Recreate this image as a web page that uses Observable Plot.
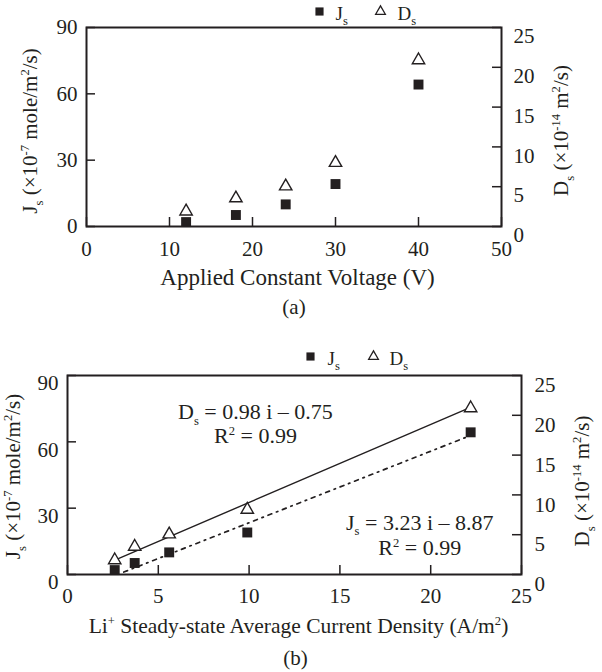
<!DOCTYPE html>
<html><head><meta charset="utf-8">
<script src="https://cdn.jsdelivr.net/npm/d3@7"></script>
<script src="https://cdn.jsdelivr.net/npm/@observablehq/plot@0.6"></script>
<style>
body{margin:0;background:#fff;}
#chart{width:602px;}
#chart svg{display:block;}
</style></head><body><div id="chart"></div>
<script>
// ---- Data ----
// Panel (a): applied constant voltage (V)
const voltage = [12, 18, 24, 30, 40];
const jsA = [2.0, 5.2, 10.0, 19.2, 64.2];      // Js (x10^-7 mole/m2/s)
const dsA = [1.9, 3.55, 5.05, 8.0, 20.9];      // Ds (x10^-14 m2/s)
// Panel (b): Li+ steady-state average current density (A/m2)
const current = [2.6, 3.7, 5.6, 9.9, 22.2];
const jsB = [2.0, 5.2, 10.0, 19.0, 64.3];
const dsB = [1.8, 3.5, 5.05, 8.15, 20.9];
// Fitted lines (end points)
const dsFitI = [2.8, 22.0];
const dsFitD = [2.0, 20.8];
const jsFitI = [3.1, 21.9];
const jsFitJ = [1.1, 61.9];
// Equation annotations (b)
const eqText = ["D_{s} = 0.98 i – 0.75", "R^{2} = 0.99", "J_{s} = 3.23 i – 8.87", "R^{2} = 0.99"];
const eqI = [10.35, 10.35, 19.4, 19.4];
const eqJ = [73.3, 62.8, 23.5, 12.1];
// Ticks
const jTicks = [0, 30, 60, 90];
const dTicks = [0, 5, 10, 15, 20, 25];
const voltTicks = [0, 10, 20, 30, 40, 50];
const curTicks = [0, 5, 10, 15, 20, 25];
const J_MAX = 90, D_MAX = 25;
const K = J_MAX / D_MAX;

const ink = "#231f20";
const W = 602;

function panel(o) {
  const pw = W - o.ml - o.mr, ph = o.height - o.mt - o.mb;
  const marks = [
    Plot.tickX(o.xTicks, {x: d => d, insetTop: ph - 9, stroke: ink, strokeWidth: 1.5}),
    Plot.tickY(jTicks, {y: d => d, insetRight: pw - 9, stroke: ink, strokeWidth: 1.5}),
    Plot.tickY(dTicks, {y: d => d * K, insetLeft: pw - 9, stroke: ink, strokeWidth: 1.5}),
    Plot.axisX(o.xTicks, {anchor: "bottom", tickSize: 0, tickPadding: o.xPad, label: null}),
    Plot.axisY(jTicks, {anchor: "left", tickSize: 0, tickPadding: 9, dy: o.lDy, label: null}),
    Plot.axisY(dTicks.map(d => d * K), {anchor: "right", tickSize: 0, tickPadding: o.rPad, dy: o.rDy,
      tickFormat: d => String(Math.round(d / K)), label: null}),
    ...(o.extra || []),
    Plot.dot(o.xs, {x: o.xs, y: o.ds.map(d => d * K), symbol: "triangle", r: 4.6, fill: "white", stroke: ink, strokeWidth: 1.4}),
    Plot.dot(o.xs, {x: o.xs, y: o.js, symbol: "square", r: 5.6, fill: ink}),
    Plot.frame({stroke: ink, strokeWidth: 2}),
    // legend
    Plot.dot([0], {frameAnchor: "top-left", dx: o.leg[0], dy: o.leg[1], symbol: "square", r: 4.6, fill: ink}),
    Plot.text(["J_{s}"], {frameAnchor: "top-left", dx: o.leg[2], dy: o.leg[3], textAnchor: "start", lineAnchor: "middle", fontSize: 19, fill: ink}),
    Plot.dot([0], {frameAnchor: "top-left", dx: o.leg[4], dy: o.leg[5], symbol: "triangle", r: 3.6, fill: "white", stroke: ink, strokeWidth: 1.3}),
    Plot.text(["D_{s}"], {frameAnchor: "top-left", dx: o.leg[6], dy: o.leg[7], textAnchor: "start", lineAnchor: "middle", fontSize: 19, fill: ink}),
    // titles
    Plot.text([o.xTitle], {frameAnchor: "bottom", dx: o.xt[0], dy: o.xt[1], textAnchor: "middle", lineAnchor: "middle", fontSize: o.xtSize, fill: ink}),
    Plot.text(["J_{s} (×10^{-7} mole/m^{2}/s)"], {frameAnchor: "left", rotate: -90, dx: o.lt[0], dy: o.lt[1], textAnchor: "middle", lineAnchor: "middle", fill: ink}),
    Plot.text(["D_{s} (×10^{-14} m^{2}/s)"], {frameAnchor: "right", rotate: -90, dx: o.rt[0], dy: o.rt[1], textAnchor: "middle", lineAnchor: "middle", fill: ink}),
    Plot.text([o.caption], {frameAnchor: "bottom", dx: o.cap[0], dy: o.cap[1], textAnchor: "middle", lineAnchor: "middle", fill: ink})
  ];
  const svg = Plot.plot({
    width: W, height: o.height,
    marginLeft: o.ml, marginRight: o.mr, marginTop: o.mt, marginBottom: o.mb,
    x: {domain: o.xDomain},
    y: {domain: [0, J_MAX]},
    style: {fontFamily: "'Liberation Serif', 'Times New Roman', serif", fontSize: "21px", color: ink, background: "white", overflow: "visible"},
    marks
  });
  richText(svg);
  return svg;
}

function richText(svg) {
  const ns = "http://www.w3.org/2000/svg";
  svg.querySelectorAll("text").forEach(el => {
    const s = el.textContent;
    if (!/[_^]\{/.test(s)) return;
    const base = parseFloat(el.getAttribute("font-size")) || 21;
    const parts = [];
    const re = /([_^])\{([^}]*)\}/g;
    let last = 0, m;
    while ((m = re.exec(s))) {
      if (m.index > last) parts.push({t: s.slice(last, m.index), k: 0});
      parts.push({t: m[2], k: m[1] === "_" ? 1 : -1});
      last = re.lastIndex;
    }
    if (last < s.length) parts.push({t: s.slice(last), k: 0});
    el.textContent = "";
    let cur = 0;
    for (const p of parts) {
      const off = p.k === 1 ? base * 0.28 : p.k === -1 ? -base * 0.38 : 0;
      const ts = document.createElementNS(ns, "tspan");
      ts.setAttribute("dy", (off - cur).toFixed(2));
      cur = off;
      if (p.k) ts.setAttribute("font-size", (base * 0.6).toFixed(1));
      ts.textContent = p.t;
      el.appendChild(ts);
    }
  });
}

const chart = document.getElementById("chart");

chart.appendChild(panel({
  xs: voltage, js: jsA, ds: dsA, xTicks: voltTicks, xDomain: [0, 50],
  height: 320, ml: 86, mr: 101, mt: 27, mb: 94,
  xPad: 15, lDy: 0, rDy: 9, rPad: 12,
  leg: [233, -16, 249, -14, 294, -16, 311, -14],
  xTitle: "Applied Constant Voltage (V)", xtSize: 23, xt: [3.5, 51],
  lt: [-56, 4], rt: [60, 3.5],
  caption: "(a)", cap: [0, 81]
}));

chart.appendChild(panel({
  xs: current, js: jsB, ds: dsB, xTicks: curTicks, xDomain: [0, 25],
  height: 352, ml: 67, mr: 81, mt: 55, mb: 98,
  xPad: 13.5, lDy: 8, rDy: 10, rPad: 13,
  leg: [243, -19, 260, -17, 306, -19, 322, -17],
  xTitle: "Li^{+} Steady-state Average Current Density (A/m^{2})", xtSize: 21.5, xt: [4, 51.5],
  lt: [-54, 1.5], rt: [61, 6],
  caption: "(b)", cap: [1, 83.5],
  extra: [
    Plot.line(dsFitI, {x: dsFitI, y: dsFitD.map(d => d * K), stroke: ink, strokeWidth: 1.4}),
    Plot.line(jsFitI, {x: jsFitI, y: jsFitJ, stroke: ink, strokeWidth: 1.7, strokeDasharray: "4,5,1.5,5"}),
    Plot.text(eqText, {x: eqI, y: eqJ, text: d => d, textAnchor: "middle", lineAnchor: "middle", fontSize: 22, fill: ink})
  ]
}));
</script></body></html>
